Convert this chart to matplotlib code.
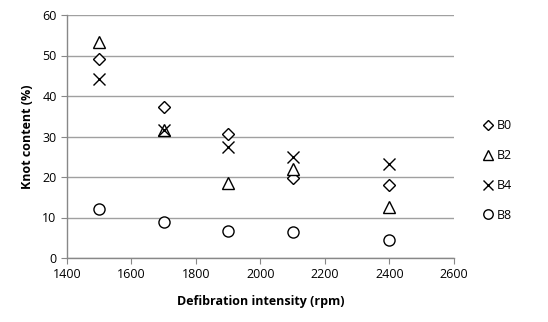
import matplotlib.pyplot as plt

plt.rcParams['font.family'] = ['Open Sans', 'DejaVu Sans']

rpm = [1500, 1700, 1900, 2100, 2400]
b0 = [49.2, 37.3, 30.5, 19.8, 18.0]
b2 = [53.3, 31.5, 18.5, 22.0, 12.7]
b4 = [44.2, 31.5, 27.3, 25.0, 23.3]
b8 = [12.0, 8.8, 6.7, 6.3, 4.5]

fig = plt.figure(figsize=(5.48, 3.22), dpi=100)
ax = fig.add_axes([67/548, 1-258/322, (454-67)/548, (258-15)/322])

ms = 8
ax.plot(rpm, b0, 'D', ms=6.5, mfc='white', mec='black', mew=1, ls='none', label='B0')
ax.plot(rpm, b2, '^', ms=ms, mfc='white', mec='black', mew=1, ls='none', label='B2')
ax.plot(rpm, b4, 'x', ms=ms, color='black', mew=1, ls='none', label='B4')
ax.plot(rpm, b8, 'o', ms=ms, mfc='white', mec='black', mew=1, ls='none', label='B8')

ax.set_xlim(1400, 2600)
ax.set_ylim(0, 60)
ax.set_xticks(range(1400, 2601, 200))
ax.set_yticks(range(0, 61, 10))
ax.grid(axis='y', color='#a0a0a0', lw=1)
ax.set_axisbelow(True)
for s in ['top', 'right']:
    ax.spines[s].set_visible(False)
for s in ['left', 'bottom']:
    ax.spines[s].set_color('#888888')
    ax.spines[s].set_linewidth(1)
ax.tick_params(colors='#888888', labelcolor='black', labelsize=9, length=4)

ax.set_xlabel('Defibration intensity (rpm)', fontsize=9, fontweight='bold', labelpad=10)
ax.set_ylabel('Knot content (%)', fontsize=9, fontweight='bold', labelpad=6)

ax.legend(loc='center left', bbox_to_anchor=(1.04, 0.36), frameon=False,
          fontsize=9, handletextpad=0.1, labelspacing=1.35, handlelength=1.2,
          markerscale=0.85)

fig.savefig('out.png', dpi=100)
